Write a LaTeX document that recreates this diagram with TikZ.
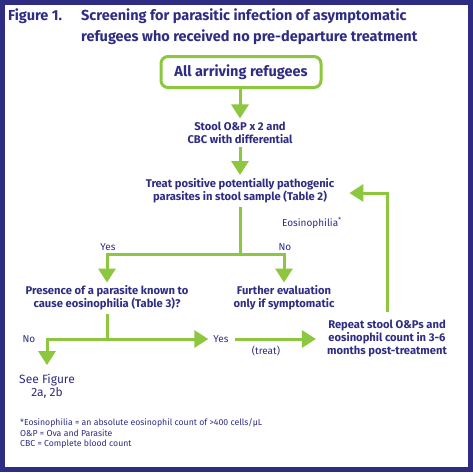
\documentclass[tikz,border=0pt]{standalone}
\usepackage{fontspec}
\setmainfont{Fira Sans}
\usetikzlibrary{arrows.meta}
\definecolor{navy}{HTML}{2E2D83}
\definecolor{lgreen}{HTML}{8DC63F}
\begin{document}
\begin{tikzpicture}[x=1pt,y=-1pt,
  txt/.style={text=navy, font=\bfseries\fontsize{11.2}{13}\selectfont, align=center, inner sep=0pt},
  ttl/.style={text=navy, font=\bfseries\fontsize{14.5}{16}\selectfont, inner sep=0pt, anchor=west},
  lbl/.style={text=navy, font=\fontsize{10}{12}\selectfont, inner sep=0pt},
  foot/.style={text=navy, font=\fontsize{8.7}{10}\selectfont, inner sep=0pt, anchor=west},
  conn/.style={draw=lgreen, line width=3pt},
  arr/.style={conn, -{Triangle[width=17pt,length=14pt]}},
]
\fill[navy] (0,0) rectangle (473,472);
\fill[white] (5,5) rectangle (468,467);

\node[ttl] (fig) at (8,16) {Figure 1.};
\node[ttl] (t1) at (81,16) {Screening for parasitic infection of asymptomatic};
\node[ttl] (t2) at (81,37) {refugees who received no pre-departure treatment};

\node[draw=lgreen, line width=3pt, rounded corners=7pt, minimum width=160pt, minimum height=31pt, text=navy, font=\bfseries\fontsize{14.5}{16}\selectfont] (start) at (241,72) {All arriving refugees};

\node[txt] (stool) at (240,132.5) {Stool O\&P x 2 and\\CBC with differential};
\node[txt] (treat) at (240,190.5) {Treat positive potentially pathogenic\\parasites in stool sample (Table 2)};
\node[txt] (pres) at (107,298) {Presence of a parasite known to\\cause eosinophilia (Table 3)?};
\node[txt] (further) at (284,298) {Further evaluation\\only if symptomatic};
\node[txt] (repeat) at (387,338) {Repeat stool O\&Ps and\\eosinophil count in 3-6\\months post-treatment};
\node[text=navy, font=\fontsize{12}{13}\selectfont, align=center, inner sep=0pt] (see) at (47,386.5) {See Figure\\2a, 2b};

\node[lbl] (yes1) at (108,247) {Yes};
\node[lbl] (no1) at (285,247) {No};
\node[lbl] (no2) at (29,339) {No};
\node[lbl] (yes2) at (221,339) {Yes};
\node[lbl] (trt) at (266,351) {(treat)};
\node[lbl] (eos) at (312,223) {Eosinophilia\textsuperscript{*}};

\coordinate (j1) at (240,254);
\coordinate (j2) at (107,339);

\draw[arr, shorten >=3pt] (start.south -| stool.north) -- (stool.north);
\draw[arr, shorten <=3pt, shorten >=3pt] (stool.south) -- (treat.north);
\draw[conn, shorten <=4pt] (treat.south) -- (j1);
\draw[arr, shorten >=3pt] (j1) -| (pres.north);
\draw[arr, shorten >=3pt] (j1) -| (further.north);
\draw[conn, shorten <=4pt] (pres.south) -- (j2);
\draw[arr, shorten >=5pt] (j2) -- (yes2.west);
\draw[arr, shorten >=9pt] (j2) -| (see.north);
\draw[arr, shorten <=6pt, shorten >=11pt] (yes2.east) -- (repeat.west |- yes2.east);
\draw[arr, shorten <=7pt, shorten >=15pt] (repeat.north) |- ([yshift=-2.5pt]treat.east);

\node[foot] (f1) at (20,423) {*Eosinophilia = an absolute eosinophil count of >400 cells/µL};
\node[foot] (f2) at (20,433.5) {O\&P = Ova and Parasite};
\node[foot] (f3) at (20,444) {CBC = Complete blood count};
\end{tikzpicture}
\end{document}
